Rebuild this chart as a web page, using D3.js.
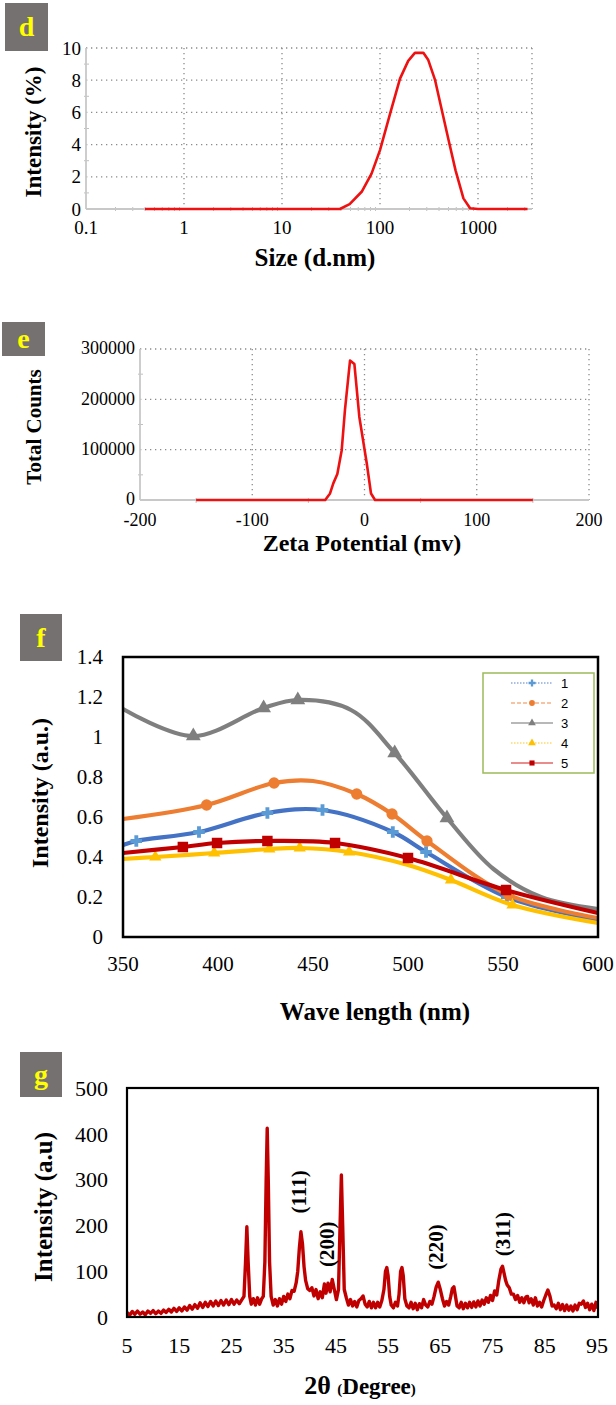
<!DOCTYPE html>
<html>
<head>
<meta charset="utf-8">
<script src="https://cdn.jsdelivr.net/npm/d3@7"></script>
<style>
  body { margin: 0; background: #fff; }
</style>
</head>
<body>
<svg id="fig" width="616" height="1405"></svg>
<script>
// ---- data: (d) size distribution
const sizeNm  = [0.4, 39, 49, 65, 82, 100, 127, 160, 194, 227, 277, 311, 365, 427, 500, 590, 710, 830, 1000, 3200];
const sizeInt = [0, 0, 0.3, 1.07, 2.2, 3.66, 5.94, 8.1, 9.2, 9.7, 9.7, 9.25, 8.0, 6.15, 4.3, 2.4, 0.66, 0.05, 0, 0];
const sizeTicks = [0.1, 1, 10, 100, 1000];
const sizeYTicks = [0, 2, 4, 6, 8, 10];

// ---- data: (e) zeta potential
const zetaMv     = [-150, -35, -30.7, -27.8, -24.2, -20.3, -17.4, -12.9, -9.0, -4.6, 2.0, 5.8, 9.4, 150];
const zetaCounts = [0, 0, 13000, 33000, 51600, 99000, 179000, 277000, 270000, 165000, 73000, 13000, 0, 0];
const zetaTicks = [-200, -100, 0, 100, 200];
const zetaYTicks = [0, 100000, 200000, 300000];

// ---- data: (f) UV-vis spectra
const uvNames = ["1", "2", "3", "4", "5"];
const uvNm = [
  [350, 357, 390, 426, 455, 492, 509.5, 552, 600],
  [350, 394, 429.5, 450, 473, 491.6, 510, 553, 600],
  [350, 387, 424, 442, 470, 493, 520.5, 545, 570, 600],
  [350, 367, 398, 427, 443, 469, 500, 522.6, 555, 600],
  [350, 381.5, 399.5, 426, 461.6, 500, 551.6, 600]
];
const uvAbs = [
  [0.46, 0.48, 0.525, 0.62, 0.635, 0.525, 0.425, 0.2, 0.085],
  [0.59, 0.66, 0.77, 0.78, 0.715, 0.615, 0.48, 0.21, 0.095],
  [1.14, 1.005, 1.145, 1.185, 1.135, 0.92, 0.595, 0.34, 0.2, 0.14],
  [0.39, 0.40, 0.42, 0.44, 0.445, 0.425, 0.36, 0.285, 0.16, 0.07],
  [0.42, 0.45, 0.47, 0.48, 0.47, 0.395, 0.235, 0.12]
];
// which points carry a marker
const uvMarked = [
  [1, 2, 3, 4, 5, 6, 7],
  [1, 2, 4, 5, 6, 7],
  [1, 2, 3, 5, 6],
  [1, 2, 3, 4, 5, 7, 8],
  [1, 2, 3, 4, 5, 6]
];
const uvXTicks = [350, 400, 450, 500, 550, 600];
const uvYTicks = [0, 0.2, 0.4, 0.6, 0.8, 1, 1.2, 1.4];

// ---- data: (g) XRD pattern [2theta, intensity]
const xrdPattern = [
  [5,10],[5.5,4],[6,12],[6.5,6],[7,13],[7.5,6],[8,11],[8.5,5],[9,13],[9.5,8],[10,14],[10.5,7],
  [11,13],[11.5,8],[12,15],[12.5,10],[13,17],[13.5,11],[14,19],[14.5,12],[15,20],[15.5,13],
  [16,22],[16.5,15],[17,25],[17.5,17],[18,27],[18.5,19],[19,31],[19.5,21],[20,32],[20.5,23],
  [21,34],[21.5,24],[22,35],[22.5,25],[23,36],[23.5,26],[24,37],[24.5,27],[25,38],[25.5,28],
  [26,37],[26.5,29],[27,38],[27.4,45],[27.7,120],[27.95,197],[28.2,120],[28.5,45],[28.8,28],
  [29.2,40],[29.6,26],[30,42],[30.4,28],[30.8,40],[31.1,45],[31.4,120],[31.65,300],[31.85,412],
  [32.05,300],[32.3,120],[32.6,45],[33,26],[33.4,38],[33.8,24],[34.2,40],[34.6,28],[35,45],
  [35.4,34],[35.8,50],[36.2,40],[36.6,58],[37,56],[37.4,75],[37.7,100],[38,150],[38.3,186],
  [38.6,160],[38.9,110],[39.2,80],[39.6,62],[40,58],[40.4,64],[40.8,46],[41.2,60],[41.6,40],
  [42,55],[42.4,42],[42.8,72],[43.1,52],[43.5,74],[43.9,55],[44.3,82],[44.7,60],[45.1,38],
  [45.5,60],[45.8,200],[46.05,310],[46.3,200],[46.6,60],[47,42],[47.4,26],[47.8,38],[48.2,24],
  [48.6,34],[49,22],[49.4,36],[49.8,40],[50.2,46],[50.6,28],[51,22],[51.4,34],[51.8,20],
  [52.2,32],[52.6,20],[53,32],[53.4,22],[53.8,36],[54.2,60],[54.5,100],[54.75,108],[55,90],
  [55.3,45],[55.6,26],[56,20],[56.4,32],[56.8,24],[57.1,50],[57.4,100],[57.65,108],[57.9,90],
  [58.2,40],[58.6,24],[59,20],[59.4,32],[59.8,18],[60.2,30],[60.6,16],[61,29],[61.4,20],
  [61.8,38],[62.2,26],[62.6,22],[63,34],[63.4,28],[63.8,45],[64.2,65],[64.6,76],[65,60],
  [65.4,40],[65.8,24],[66.2,34],[66.6,26],[67,45],[67.3,62],[67.6,66],[67.9,45],[68.2,24],
  [68.6,20],[69,32],[69.4,18],[69.8,30],[70.2,20],[70.6,32],[71,21],[71.4,33],[71.8,22],
  [72.2,35],[72.6,24],[73,37],[73.4,28],[73.8,42],[74.2,32],[74.6,47],[75,36],[75.4,57],
  [75.8,48],[76.2,80],[76.6,104],[76.9,111],[77.2,96],[77.5,80],[77.8,70],[78.2,64],[78.6,50],
  [79,50],[79.4,38],[79.8,47],[80.2,32],[80.6,42],[81,31],[81.4,44],[81.7,45],[82,31],
  [82.4,40],[82.8,26],[83.2,42],[83.6,24],[84,32],[84.4,22],[84.8,36],[85.2,48],[85.6,59],
  [86,45],[86.4,24],[86.8,26],[87.2,18],[87.6,30],[88,16],[88.4,27],[88.8,14],[89.2,26],
  [89.6,15],[90,24],[90.4,13],[90.8,26],[91.2,16],[91.6,30],[92,28],[92.4,35],[92.8,21],
  [93.2,30],[93.6,16],[94,28],[94.4,14],[94.8,32],[95,18]
];
const hklLabels = ["(111)", "(200)", "(220)", "(311)"];
const hklTheta  = [37.9, 43.3, 64.2, 77.0];
const hklInt    = [273, 159, 153, 181];
const xrdXTicks = [5, 15, 25, 35, 45, 55, 65, 75, 85, 95];
const xrdYTicks = [0, 100, 200, 300, 400, 500];

const serif = "'Liberation Serif', Tinos, 'Times New Roman', 'DejaVu Serif', serif";
const svg = d3.select("#fig").style("font-family", serif);

function panelTag(x, y, w, h, letter) {
  svg.append("rect").attr("x", x).attr("y", y).attr("width", w).attr("height", h).attr("fill", "#767171");
  svg.append("text").attr("x", x + w / 2).attr("y", y + h / 2 + 9)
    .attr("text-anchor", "middle").style("font-size", "28px").style("font-weight", "bold")
    .style("fill", "#ffff00").text(letter);
}

function dotted(x1, y1, x2, y2) {
  svg.append("line").attr("x1", x1).attr("y1", y1).attr("x2", x2).attr("y2", y2)
    .attr("stroke", "#8a8a8a").attr("stroke-width", 1.3).attr("stroke-dasharray", "1.3,3.7");
}

function yTitle(x, y, txt, size) {
  svg.append("text").attr("transform", `translate(${x}, ${y}) rotate(-90)`)
    .attr("text-anchor", "middle").style("font-size", size).style("font-weight", "bold").text(txt);
}

// ================= (d) =================
panelTag(5, 3, 43, 48, "d");
let xd = d3.scaleLog().domain([0.1, 3556]).range([86, 532]);
let yd = d3.scaleLinear().domain([0, 10]).range([209, 48]);

sizeYTicks.slice(1).forEach(v => dotted(86, yd(v), 532, yd(v)));
sizeTicks.slice(1).forEach(v => dotted(xd(v), 48, xd(v), 209));
dotted(532, 48, 532, 209);

// minor ticks
[1, 3, 5, 7, 9].forEach(v => svg.append("line").attr("x1", 84).attr("x2", 89)
  .attr("y1", yd(v)).attr("y2", yd(v)).attr("stroke", "#c0c0c0").attr("stroke-width", 1));
[0.2,0.3,0.4,0.5,0.6,0.7,0.8,0.9, 2,3,4,5,6,7,8,9, 20,30,40,50,60,70,80,90, 200,300,400,500,600,700,800,900, 2000,3000]
  .forEach(v => svg.append("line").attr("x1", xd(v)).attr("x2", xd(v))
    .attr("y1", 207).attr("y2", 211).attr("stroke", "#c0c0c0").attr("stroke-width", 1));

svg.append("line").attr("x1", 86).attr("x2", 86).attr("y1", 48).attr("y2", 209).attr("stroke", "#c8c8c8").attr("stroke-width", 1.8);
svg.append("line").attr("x1", 86).attr("x2", 532).attr("y1", 209).attr("y2", 209).attr("stroke", "#c8c8c8").attr("stroke-width", 1.8);

svg.append("g").selectAll("text").data(sizeYTicks).join("text")
  .attr("x", 81).attr("y", d => yd(d)).attr("dy", "0.35em").attr("text-anchor", "end")
  .style("font-size", "19px").text(d => d);
svg.append("g").selectAll("text").data(sizeTicks).join("text")
  .attr("x", d => xd(d)).attr("y", 234).attr("text-anchor", "middle")
  .style("font-size", "19px").text(d => d);

svg.append("path")
  .datum(sizeNm.map((v, i) => [v, sizeInt[i]]))
  .attr("fill", "none").attr("stroke", "#ee1111").attr("stroke-width", 2.6).attr("stroke-linejoin", "round")
  .attr("d", d3.line().x(d => xd(d[0])).y(d => yd(d[1])));

yTitle(41, 132, "Intensity (%)", "23px");
svg.append("text").attr("x", 315).attr("y", 266).attr("text-anchor", "middle")
  .style("font-size", "25px").style("font-weight", "bold").text("Size (d.nm)");

// ================= (e) =================
panelTag(2, 322, 43, 34, "e");
let xe = d3.scaleLinear().domain([-200, 200]).range([140, 589]);
let ye = d3.scaleLinear().domain([0, 300000]).range([500, 349]);

zetaYTicks.slice(1).forEach(v => dotted(140, ye(v), 589, ye(v)));
zetaTicks.slice(1).forEach(v => dotted(xe(v), 349, xe(v), 500));

[50000, 150000, 250000].forEach(v => svg.append("line").attr("x1", 138).attr("x2", 143)
  .attr("y1", ye(v)).attr("y2", ye(v)).attr("stroke", "#c0c0c0").attr("stroke-width", 1));
[-150, -50, 50, 150].forEach(v => svg.append("line").attr("x1", xe(v)).attr("x2", xe(v))
  .attr("y1", 498).attr("y2", 503).attr("stroke", "#c0c0c0").attr("stroke-width", 1));

svg.append("line").attr("x1", 140).attr("x2", 140).attr("y1", 349).attr("y2", 500).attr("stroke", "#c8c8c8").attr("stroke-width", 1.8);
svg.append("line").attr("x1", 140).attr("x2", 589).attr("y1", 500).attr("y2", 500).attr("stroke", "#c8c8c8").attr("stroke-width", 1.8);

svg.append("g").selectAll("text").data(zetaYTicks).join("text")
  .attr("x", 135).attr("y", d => ye(d)).attr("dy", "0.3em").attr("text-anchor", "end")
  .style("font-size", "18px").text(d => d);
svg.append("g").selectAll("text").data(zetaTicks).join("text")
  .attr("x", d => xe(d)).attr("y", 526).attr("text-anchor", "middle")
  .style("font-size", "18px").text(d => d);

svg.append("path")
  .datum(zetaMv.map((v, i) => [v, zetaCounts[i]]))
  .attr("fill", "none").attr("stroke", "#ee1111").attr("stroke-width", 2.6).attr("stroke-linejoin", "round")
  .attr("d", d3.line().x(d => xe(d[0])).y(d => ye(d[1])));

yTitle(41, 427, "Total Counts", "21px");
svg.append("text").attr("x", 362).attr("y", 551).attr("text-anchor", "middle")
  .style("font-size", "24px").style("font-weight", "bold").text("Zeta Potential (mv)");

// ================= (f) =================
panelTag(20, 614, 42, 47, "f");
let xf = d3.scaleLinear().domain([350, 600]).range([123, 598]);
let yf = d3.scaleLinear().domain([0, 1.4]).range([937, 657]);

const uvLine  = ["#4472c4", "#ed7d31", "#7f7f7f", "#ffc000", "#c00000"];
const uvMark  = ["#5b9bd5", "#ed7d31", "#7f7f7f", "#ffc000", "#c00000"];
const uvShape = [d3.symbolCross, d3.symbolCircle, d3.symbolTriangle, d3.symbolTriangle, d3.symbolSquare];
const uvSize  = [75, 100, 95, 65, 110];
const uvLegDash = ["1.5,1.5", "4,2", null, "1.5,1.5", null];
const uvLegCol  = ["#8eaadb", "#f4b183", "#a0a0a0", "#ffd966", "#e06666"];

let gf = svg.append("g");
uvNames.forEach((name, s) => {
  let pts = uvNm[s].map((v, i) => [v, uvAbs[s][i]]);
  gf.append("path").datum(pts)
    .attr("fill", "none").attr("stroke", uvLine[s]).attr("stroke-width", 4.2)
    .attr("d", d3.line().curve(d3.curveCatmullRom).x(d => xf(d[0])).y(d => yf(d[1])));
  gf.selectAll(null).data(uvMarked[s].map(i => pts[i])).join("path")
    .attr("transform", d => `translate(${xf(d[0])}, ${yf(d[1])})`)
    .attr("fill", uvMark[s])
    .attr("d", d3.symbol().type(uvShape[s]).size(uvSize[s]));
});

svg.append("rect").attr("x", 123).attr("y", 657).attr("width", 475).attr("height", 280)
  .attr("fill", "none").attr("stroke", "#000").attr("stroke-width", 2.5);

svg.append("g").selectAll("text").data(uvYTicks).join("text")
  .attr("x", 103).attr("y", d => yf(d)).attr("dy", "0.35em").attr("text-anchor", "end")
  .style("font-size", "21px").text(d => d);
svg.append("g").selectAll("text").data(uvXTicks).join("text")
  .attr("x", d => xf(d)).attr("y", 971).attr("text-anchor", "middle")
  .style("font-size", "21px").text(d => d);

// legend
svg.append("rect").attr("x", 483).attr("y", 673).attr("width", 111).attr("height", 100)
  .attr("fill", "#fff").attr("stroke", "#9bbb59").attr("stroke-width", 1.5);
uvNames.forEach((name, s) => {
  let ly = 683 + s * 20;
  svg.append("line").attr("x1", 511).attr("x2", 553).attr("y1", ly).attr("y2", ly)
    .attr("stroke", uvLegCol[s]).attr("stroke-width", 1.6)
    .attr("stroke-dasharray", uvLegDash[s]);
  svg.append("path").attr("transform", `translate(532, ${ly})`).attr("fill", uvMark[s])
    .attr("d", d3.symbol().type(uvShape[s]).size(26));
  svg.append("text").attr("x", 561).attr("y", ly).attr("dy", "0.36em")
    .style("font-family", "'Liberation Sans', Arial, sans-serif").style("font-size", "13px").text(name);
});

yTitle(48, 793, "Intensity (a.u.)", "24px");
svg.append("text").attr("x", 375).attr("y", 1020).attr("text-anchor", "middle")
  .style("font-size", "25px").style("font-weight", "bold").text("Wave length (nm)");

// ================= (g) =================
panelTag(20, 1052, 42, 45, "g");
let xg = d3.scaleLinear().domain([5, 95]).range([127, 597]);
let yg = d3.scaleLinear().domain([0, 500]).range([1317, 1088]);

svg.append("path").datum(xrdPattern)
  .attr("fill", "none").attr("stroke", "#c00000").attr("stroke-width", 3.4).attr("stroke-linejoin", "round")
  .attr("d", d3.line().x(d => xg(d[0])).y(d => yg(d[1])));

svg.append("rect").attr("x", 127).attr("y", 1088).attr("width", 471).attr("height", 229)
  .attr("fill", "none").attr("stroke", "#000").attr("stroke-width", 2.2);

svg.append("g").selectAll("text").data(xrdYTicks).join("text")
  .attr("x", 108).attr("y", d => yg(d)).attr("dy", "0.35em").attr("text-anchor", "end")
  .style("font-size", "22px").text(d => d);
svg.append("g").selectAll("text").data(xrdXTicks).join("text")
  .attr("x", d => xg(d)).attr("y", 1353).attr("text-anchor", "middle")
  .style("font-size", "22px").text(d => d);

hklLabels.forEach((lab, i) => {
  svg.append("text")
    .attr("transform", `translate(${xg(hklTheta[i]) + 7}, ${yg(hklInt[i])}) rotate(-90)`)
    .attr("text-anchor", "middle").style("font-size", "21px").style("font-weight", "bold").text(lab);
});

yTitle(52, 1207, "Intensity (a.u)", "25px");
let gt = svg.append("text").attr("x", 360).attr("y", 1394).attr("text-anchor", "middle").style("font-weight", "bold");
gt.append("tspan").style("font-size", "26px").text("2θ ");
gt.append("tspan").style("font-size", "15px").text("(");
gt.append("tspan").style("font-size", "23px").text("Degree");
gt.append("tspan").style("font-size", "15px").text(")");
</script>
</body>
</html>
